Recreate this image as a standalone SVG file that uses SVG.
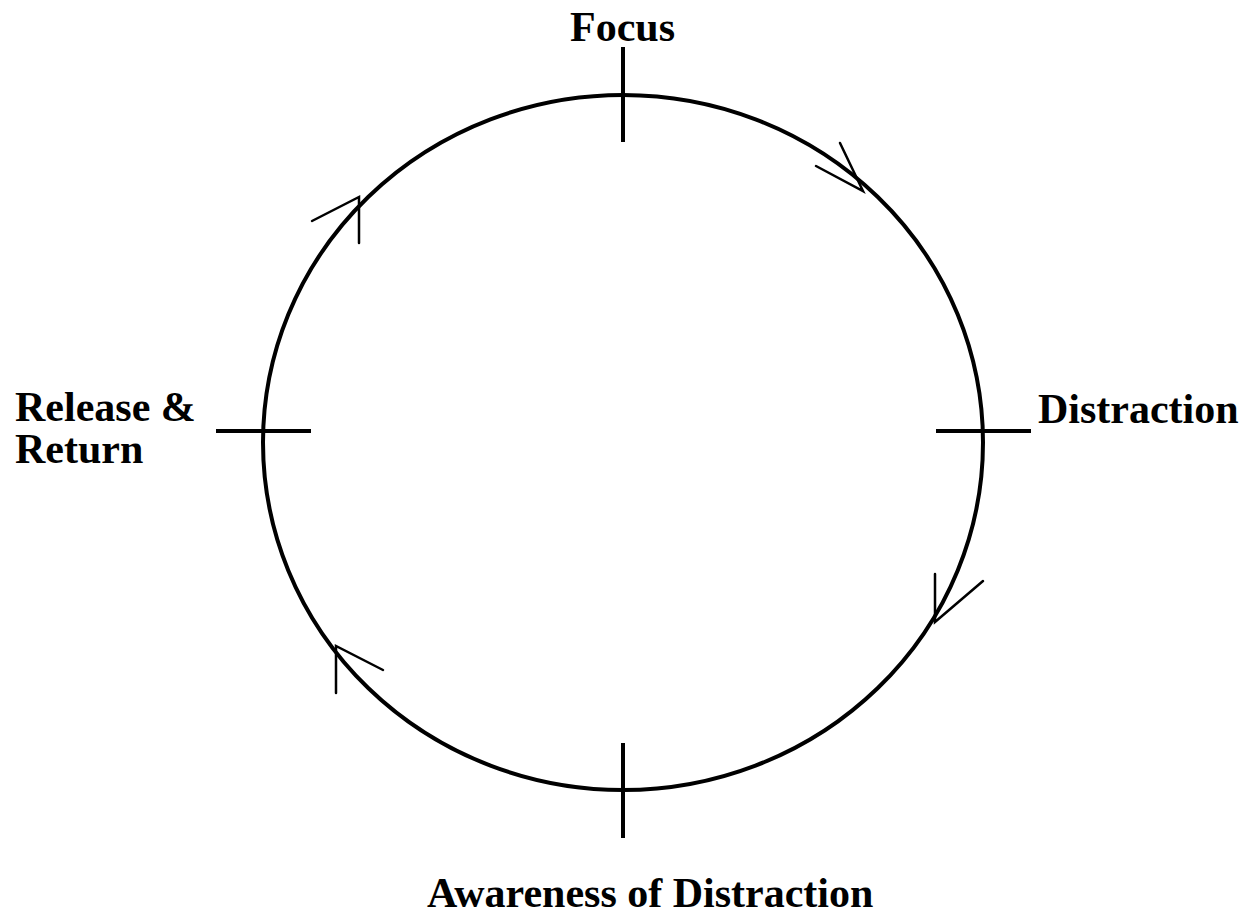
<svg xmlns="http://www.w3.org/2000/svg" width="1248" height="917" viewBox="0 0 1248 917">
<style>
.lbl{font-family:"Liberation Serif","Times New Roman",serif;font-weight:bold;font-size:42px;fill:#000}
.ring{fill:none;stroke:#000;stroke-width:4}
.tick{stroke:#000;stroke-width:4;fill:none}
.arr{stroke:#000;stroke-width:2.5;fill:none;stroke-linecap:round;stroke-linejoin:miter}
</style>
<rect width="1248" height="917" fill="#fff"/>
<g id="connectors">
<ellipse class="ring" cx="623" cy="442.5" rx="360" ry="347.5"/>
<polyline class="arr" points="840,143 863,191 816,166"/>
<polyline class="arr" points="312,221 359,197 359,243"/>
<polyline class="arr" points="935,574 935,622 983,581"/>
<polyline class="arr" points="336,693 336,646 383,670"/>
</g>
<g id="focus">
<line class="tick" x1="623" y1="47" x2="623" y2="142"/>
<text class="lbl" x="570" y="41">Focus</text>
</g>
<g id="distraction">
<line class="tick" x1="936" y1="431" x2="1031" y2="431"/>
<text class="lbl" x="1038" y="423">Distraction</text>
</g>
<g id="awareness">
<line class="tick" x1="623" y1="743" x2="623" y2="838"/>
<text class="lbl" x="427" y="907">Awareness of Distraction</text>
</g>
<g id="release">
<line class="tick" x1="216" y1="431" x2="311" y2="431"/>
<text class="lbl" x="15" y="421">Release &amp;</text>
<text class="lbl" x="15" y="463">Return</text>
</g>
</svg>
